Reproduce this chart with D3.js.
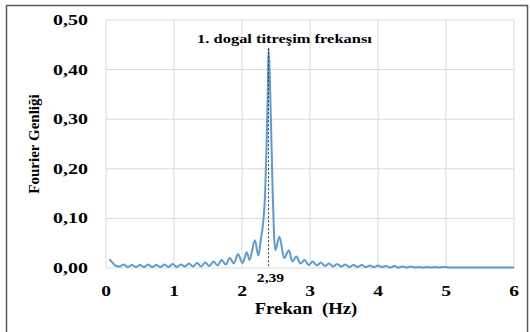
<!DOCTYPE html>
<html>
<head>
<meta charset="utf-8">
<script src="https://cdn.jsdelivr.net/npm/d3@7"></script>
<style>
  body { margin: 0; background: #fff; }
  text { font-family: "Liberation Serif", "Times New Roman", serif; font-weight: bold; fill: #000; }
</style>
</head>
<body>
<div id="chart"></div>
<script>
// frequency (Hz) and Fourier amplitude
const freq = [0.05, 0.10, 0.15, 0.20, 0.26, 0.32, 0.38, 0.44, 0.50, 0.56, 0.62, 0.68, 0.74, 0.80, 0.86, 0.92,
  0.98, 1.04, 1.10, 1.16, 1.22, 1.28, 1.34, 1.40, 1.46, 1.52, 1.58, 1.64, 1.70, 1.76, 1.82, 1.88, 1.94, 2.01,
  2.07, 2.11, 2.19, 2.24, 2.28, 2.31, 2.34, 2.36, 2.38, 2.39, 2.41, 2.43, 2.45, 2.47, 2.49, 2.55, 2.62, 2.69,
  2.74, 2.80, 2.86, 2.92, 2.98, 3.04, 3.10, 3.16, 3.22, 3.28, 3.34, 3.40, 3.46, 3.52, 3.58, 3.64, 3.70, 3.76,
  3.82, 3.88, 3.94, 4.00, 4.06, 4.12, 4.18, 4.24, 4.30, 4.36, 4.42, 4.48, 4.54, 4.60, 4.66, 4.72, 4.78, 4.84,
  4.90, 4.96, 5.00, 5.04, 5.10, 5.20, 5.40, 5.60, 5.80, 6.00];
const amp = [0.018, 0.010, 0.004, 0.003, 0.007, 0.002, 0.006, 0.002, 0.006, 0.002, 0.007, 0.002, 0.006, 0.002, 0.007, 0.002,
  0.008, 0.002, 0.007, 0.003, 0.009, 0.003, 0.010, 0.003, 0.011, 0.004, 0.013, 0.005, 0.016, 0.007, 0.020, 0.009, 0.028, 0.010,
  0.032, 0.016, 0.056, 0.025, 0.060, 0.090, 0.150, 0.240, 0.360, 0.443, 0.380, 0.270, 0.160, 0.070, 0.036, 0.063, 0.020, 0.036,
  0.013, 0.023, 0.009, 0.016, 0.006, 0.013, 0.005, 0.011, 0.004, 0.009, 0.003, 0.008, 0.003, 0.007, 0.002, 0.006, 0.002, 0.006,
  0.002, 0.005, 0.002, 0.005, 0.002, 0.004, 0.001, 0.004, 0.001, 0.003, 0.001, 0.003, 0.001, 0.002, 0.001, 0.002, 0.001, 0.002,
  0.001, 0.002, 0.002, 0.001, 0.001, 0.001, 0.001, 0.001, 0.001, 0.001];
const xTicks = [0, 1, 2, 3, 4, 5, 6];
const yTicks = [0, 0.1, 0.2, 0.3, 0.4, 0.5];
const peakFreq = 2.39;
const peakAmp = 0.443;
const peakLabel = "1. dogal titreşim frekansı";

const W = 530, H = 332;
const margin = { top: 20, right: 16, bottom: 64, left: 106 };
const width = W - margin.left - margin.right,
      height = H - margin.top - margin.bottom;

const svg = d3.select("#chart").append("svg")
    .attr("width", W).attr("height", H);

// the source picture has its text stretched sideways
function stretch(sel, k) {
  sel.each(function() {
    const len = this.getComputedTextLength();
    d3.select(this).attr("textLength", len * k).attr("lengthAdjust", "spacingAndGlyphs");
  });
}

// outer frame
svg.append("rect")
    .attr("x", 6.5).attr("y", 5.5)
    .attr("width", 521).attr("height", 340)
    .attr("fill", "none").attr("stroke", "#595959").attr("stroke-width", 1.5);

const g = svg.append("g").attr("transform", `translate(${margin.left},${margin.top})`);

const x = d3.scaleLinear().domain([0, 6]).range([0, width]);
const y = d3.scaleLinear().domain([0, 0.5]).range([height, 0]);

// grid
g.selectAll(".vgrid").data(xTicks).enter().append("line")
    .attr("x1", d => x(d)).attr("x2", d => x(d))
    .attr("y1", 0).attr("y2", height)
    .attr("stroke", "#d9d9d9").attr("stroke-width", 1);
g.selectAll(".hgrid").data(yTicks).enter().append("line")
    .attr("x1", 0).attr("x2", width)
    .attr("y1", d => y(d)).attr("y2", d => y(d))
    .attr("stroke", "#d9d9d9").attr("stroke-width", 1);

// tick labels
g.selectAll(".ylab").data(yTicks).enter().append("text")
    .attr("x", -18).attr("y", d => y(d) + 5)
    .attr("text-anchor", "end").style("font-size", "15px")
    .text(d => d3.format(".2f")(d).replace(".", ","))
    .call(stretch, 1.33);
g.selectAll(".xlab").data(xTicks).enter().append("text")
    .attr("x", d => x(d)).attr("y", height + 28)
    .attr("text-anchor", "middle").style("font-size", "15px")
    .text(d => d)
    .call(stretch, 1.3);

// axis titles
g.append("text")
    .attr("transform", `translate(-67,${height / 2}) rotate(-90)`)
    .attr("text-anchor", "middle").style("font-size", "15px")
    .text("Fourier Genliği");
g.append("text")
    .attr("x", 200).attr("y", height + 46)
    .attr("text-anchor", "middle").style("font-size", "16px")
    .attr("xml:space", "preserve")
    .text("Frekan  (Hz)")
    .call(stretch, 1.17);

// spectrum line
const pts = freq.map((f, i) => [f, amp[i]]);
const line = d3.line().x(d => x(d[0])).y(d => y(d[1])).curve(d3.curveMonotoneX);
g.append("path").datum(pts)
    .attr("d", line)
    .attr("fill", "none").attr("stroke", "#5b9bd5").attr("stroke-width", 2);

// peak marker
g.append("line")
    .attr("x1", x(peakFreq)).attr("x2", x(peakFreq))
    .attr("y1", y(peakAmp)).attr("y2", y(0))
    .attr("stroke", "#333").attr("stroke-width", 1).attr("stroke-dasharray", "2,2");
g.append("text")
    .attr("x", x(peakFreq) + 2).attr("y", height + 14)
    .attr("text-anchor", "middle").style("font-size", "12px")
    .text(String(peakFreq).replace(".", ","))
    .call(stretch, 1.3);
g.append("text")
    .attr("x", x(peakFreq) + 16).attr("y", 23)
    .attr("text-anchor", "middle").style("font-size", "12px")
    .text(peakLabel)
    .call(stretch, 1.37);
</script>
</body>
</html>
